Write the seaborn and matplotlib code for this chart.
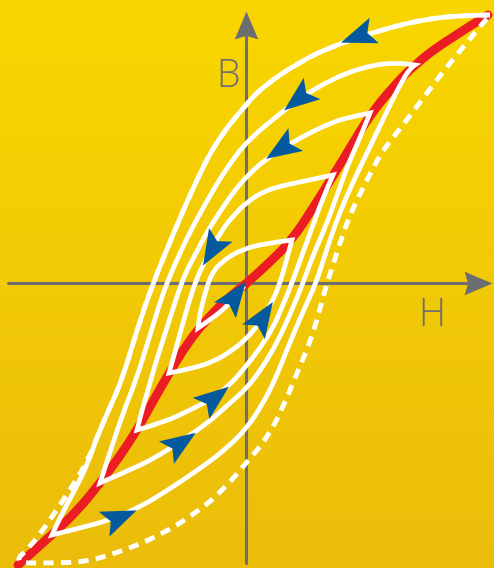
"""
Hysteresis spiral (AC demagnetisation) drawn in the B-H plane
"""

import matplotlib
matplotlib.use('Agg')
import matplotlib.pyplot as plt
from matplotlib.markers import MarkerStyle
from matplotlib.path import Path
from matplotlib.patches import PathPatch
from matplotlib.transforms import Affine2D
from matplotlib.colors import LinearSegmentedColormap
import seaborn as sns
import numpy as np

BG_TOP = '#F9D600'
BG_BOTTOM = '#EBBD0B'
AXIS_GREY = '#6D6E70'
RED = '#EC1C24'
BLUE = '#045A9C'

# drawing window and axis extents, H and B units (origin = axis crossing)
H_RANGE = (-246, 248)
B_RANGE = (-285, 283)
H_AXIS = (-238, 246)
B_AXIS = (-280, 272)
HEAD_LEN = 28

# initial magnetisation curve
red_h = [-228, -194, -168, -146, -126, -109, -94, -78, -58, -38, -18, 1, 24, 46, 67, 87, 104, 124, 146, 169, 204, 242]
red_b = [-282, -252, -227, -200, -173, -147, -120, -92, -59, -35, -15, 0, 21, 43, 75, 107, 135, 168, 195, 219, 245, 268]

# spiral of shrinking loops: d = descending branch, a = ascending branch
d0_h = [244, 229, 184, 134, 84, 52, 19, 1, -31, -54, -74, -93, -109, -124, -136, -149, -158, -171, -184, -194]
d0_b = [268, 268, 265, 253, 236, 220, 198, 180, 140, 93, 46, 0, -47, -97, -124, -154, -180, -207, -230, -252]
a1_h = [-194, -166, -136, -106, -81, -48, -21, 1, 16, 29, 40, 50, 60, 70, 79, 89, 99, 109, 121, 132, 144, 154, 164, 169]
a1_b = [-252, -245, -237, -224, -209, -187, -167, -145, -122, -97, -69, -45, -22, 0, 28, 58, 83, 105, 130, 153, 178, 198, 215, 218]
d1_h = [169, 151, 117, 84, 56, 36, 2, -18, -34, -48, -60, -70, -80, -89, -99, -110, -123, -136, -146]
d1_b = [218, 221, 216, 203, 186, 171, 143, 117, 91, 66, 43, 21, -2, -29, -62, -97, -130, -169, -200]
a2_h = [-146, -116, -91, -68, -38, -16, 1, 16, 28, 38, 48, 57, 66, 76, 85, 94, 103, 114, 124]
a2_b = [-200, -187, -175, -160, -140, -120, -105, -85, -65, -45, -22, 0, 25, 48, 71, 96, 121, 145, 170]
d2_h = [124, 104, 84, 54, 37, 19, 2, -11, -25, -39, -51, -60, -67, -75, -83, -91, -98, -104, -109]
d2_b = [170, 166, 160, 145, 135, 123, 108, 93, 73, 51, 28, 11, -7, -32, -57, -82, -107, -127, -147]
a3_h = [-109, -81, -56, -36, -16, 1, 14, 27, 37, 46, 56, 66, 76, 87]
a3_b = [-147, -139, -127, -117, -102, -82, -65, -45, -22, 0, 28, 55, 83, 108]
d3_h = [87, 54, 35, 19, 2, -14, -26, -35, -44, -51, -58, -65, -71, -77]
d3_b = [108, 101, 97, 92, 82, 66, 50, 33, 16, 0, -22, -47, -69, -90]
a4_h = [-77, -56, -33, -13, 1, 12, 20, 27, 34, 40, 46]
a4_b = [-90, -86, -79, -67, -55, -42, -29, -17, 0, 21, 43]
d4_h = [46, 21, -6, -26, -35, -40, -44, -47, -48]
d4_b = [43, 40, 33, 20, 8, -7, -22, -35, -45]
a5_h = [-48, -33, -19, -9, -2]
a5_b = [-45, -35, -23, -12, -3]

# major (saturation) loop, dashed; its upper part lies under d0
maj_tail_h = [-158, -171, -186, -201, -216, -233]
maj_tail_b = [-177, -199, -222, -244, -264, -280]
maj_up_h = [-233, -196, -161, -129, -89, -48, -21, 1, 22, 37, 49, 60, 68, 75, 81, 88, 94, 102, 111, 122,
            134, 145, 157, 172, 187, 204, 219, 231, 244]
maj_up_b = [-280, -280, -279, -270, -254, -229, -205, -179, -154, -124, -95, -69, -47, -22, 0, 21, 40, 63, 83, 105,
            128, 143, 158, 178, 198, 220, 238, 253, 268]

# direction arrows on the spiral
arrow_h = [114, 54, 37, -33, -129, -68, -34, 15, -13]
arrow_b = [248, 186, 136, 36, -235, -161, -116, -36, -15]
arrow_ang = [200, 218, 213, 240, 23, 34, 38, 57, 54]


def head(angle, back=0.7, spread=0.65, notch=0.35):
    verts = [(1, 0), (-back, spread), (-notch, 0), (-back, -spread), (1, 0)]
    codes = [Path.MOVETO, Path.LINETO, Path.LINETO, Path.LINETO, Path.CLOSEPOLY]
    return MarkerStyle(Path(verts, codes), transform=Affine2D().rotate_deg(angle))


def smooth_segments(h, b):
    """Quadratic pieces through the read points (corners kept at the ends)."""
    p = np.column_stack([h, b]).astype(float)
    verts, codes = [], []
    for i in range(1, len(p) - 1):
        end = p[i + 1] if i == len(p) - 2 else (p[i] + p[i + 1]) / 2
        verts += [p[i], end]
        codes += [Path.CURVE3, Path.CURVE3]
    if len(p) == 2:
        verts, codes = [p[1]], [Path.LINETO]
    return p[0], verts, codes


def curve_path(branches):
    start, verts, codes = smooth_segments(*branches[0])
    verts, codes = [start] + verts, [Path.MOVETO] + codes
    for h, b in branches[1:]:
        _, v, c = smooth_segments(h, b)
        verts += v
        codes += c
    return Path(verts, codes)


sns.set_theme(style='white')

fig = plt.figure(figsize=(4.94, 5.68), dpi=100)
ax = fig.add_axes([0, 0, 1, 1])

cmap = LinearSegmentedColormap.from_list('bg', [BG_TOP, BG_BOTTOM])
ax.imshow(np.linspace(0, 1, 256).reshape(-1, 1), cmap=cmap, aspect='auto', origin='upper',
          extent=[H_RANGE[0], H_RANGE[1], B_RANGE[0], B_RANGE[1]], zorder=0)

# axes with arrow heads
sns.lineplot(x=[H_AXIS[0], H_AXIS[1] - HEAD_LEN / 2], y=[0, 0], sort=False, estimator=None,
             color=AXIS_GREY, linewidth=2.2, ax=ax, zorder=1)
sns.lineplot(x=[0, 0], y=[B_AXIS[0], B_AXIS[1] - HEAD_LEN / 2], sort=False, estimator=None,
             color=AXIS_GREY, linewidth=2.2, ax=ax, zorder=1)
ax.plot(H_AXIS[1] - HEAD_LEN / 2, 0, ls='none', marker=head(0, 1, 0.85, 0.75), ms=20,
        color=AXIS_GREY, mec='none', zorder=1)
ax.plot(0, B_AXIS[1] - HEAD_LEN / 2, ls='none', marker=head(90, 1, 0.85, 0.75), ms=20,
        color=AXIS_GREY, mec='none', zorder=1)

ax.add_patch(PathPatch(curve_path([(red_h, red_b)]), fill=False, edgecolor=RED, linewidth=6.4,
                       capstyle='round', zorder=2))

maj_h = d0_h[:16] + maj_tail_h + maj_up_h[1:]
maj_b = d0_b[:16] + maj_tail_b + maj_up_b[1:]
ax.add_patch(PathPatch(curve_path([(maj_h, maj_b)]), fill=False, edgecolor='white', linewidth=3.5,
                       linestyle=(0, (2.1, 1.5)), capstyle='butt', zorder=3))

spiral = [(d0_h, d0_b), (a1_h, a1_b), (d1_h, d1_b), (a2_h, a2_b), (d2_h, d2_b),
          (a3_h, a3_b), (d3_h, d3_b), (a4_h, a4_b), (d4_h, d4_b), (a5_h, a5_b)]
ax.add_patch(PathPatch(curve_path(spiral), fill=False, edgecolor='white', linewidth=3.4,
                       joinstyle='miter', capstyle='butt', zorder=4))

for h, b, a in zip(arrow_h, arrow_b, arrow_ang):
    ax.plot(h, b, ls='none', marker=head(a), ms=30, color=BLUE, mec='none', zorder=5)

font = dict(family=['Open Sans', 'DejaVu Sans'], weight='light', fontsize=27, color=AXIS_GREY,
            ha='center', va='baseline', zorder=6)
ax.text(-18, 196, 'B', **font)
ax.text(186, -43, 'H', **font)

ax.set_xlim(*H_RANGE)
ax.set_ylim(*B_RANGE)
ax.axis('off')

fig.savefig('out.png', dpi=100)
plt.close()
